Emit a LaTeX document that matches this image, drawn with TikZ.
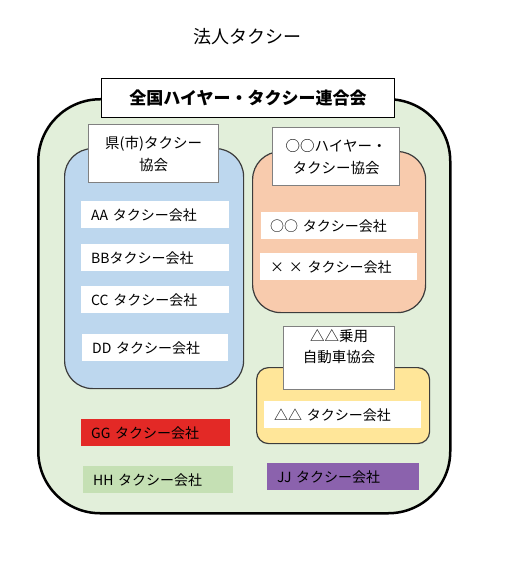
\documentclass[tikz,border=0pt]{standalone}
\usepackage{fontspec}
\newfontfamily\jp{Noto Sans CJK JP}
\definecolor{outerfill}{HTML}{E2EFDA}
\definecolor{bluefill}{HTML}{BDD7EE}
\definecolor{orangefill}{HTML}{F8CBAD}
\definecolor{yellowfill}{HTML}{FFE699}
\definecolor{redfill}{HTML}{E32926}
\definecolor{greenfill}{HTML}{C5E0B4}
\definecolor{purplefill}{HTML}{8B62AD}
\definecolor{darkedge}{HTML}{3C3C3C}
\definecolor{grayedge}{HTML}{808080}
\tikzset{
  group/.style={draw=darkedge, line width=1.2pt, anchor=north west, inner sep=0pt},
  labelbox/.style={draw=grayedge, line width=1.2pt, fill=white, anchor=north west, inner sep=0pt, align=center, font=\jp\fontsize{14.5}{22}\selectfont},
  item/.style={anchor=north west, inner xsep=10pt, inner ysep=0pt, minimum height=27pt, align=left, font=\jp\fontsize{14}{16}\selectfont}
}
\begin{document}
\begin{tikzpicture}[x=1pt,y=-1pt]
\useasboundingbox (0,0) rectangle (507,580);
\fill[white] (0,0) rectangle (507,580);
% title
\node[font=\jp\fontsize{18}{20}\selectfont] (title) at (247,37) {法人タクシー};
% outer box
\node[draw=black, line width=2.5pt, fill=outerfill, rounded corners=62pt, anchor=north west, minimum width=412pt, minimum height=414pt, inner sep=0pt] (outer) at (37,98) {};
% header
\node[draw=black, line width=1pt, fill=white, anchor=north west, minimum width=293pt, minimum height=39pt, inner sep=0pt, font=\jp\bfseries\fontsize{17}{20}\selectfont] (head) at (101,78) {全国ハイヤー・タクシー連合会};
% blue group
\node[group, fill=bluefill, rounded corners=28pt, minimum width=179pt, minimum height=240pt] (blue) at (64,148) {};
\node[labelbox, minimum width=130pt, minimum height=58pt] (bluelab) at (88,124) {県(市)タクシー\\協会};
\node[item, fill=white, text width=128pt] (aa) at (81,201) {AA タクシー会社};
\node[item, fill=white, text width=128pt] (bb) at (81,244) {BBタクシー会社};
\node[item, fill=white, text width=128pt] (cc) at (81,286) {CC タクシー会社};
\node[item, fill=white, text width=126pt] (dd) at (82,334) {DD タクシー会社};
% orange group
\node[group, fill=orangefill, rounded corners=28pt, minimum width=173pt, minimum height=161pt] (orange) at (252,151) {};
\node[labelbox, minimum width=127pt, minimum height=58pt] (orangelab) at (272,127) {○○ハイヤー・\\タクシー協会};
\node[item, fill=white, text width=139pt, inner xsep=9pt] (oo) at (261,212) {○○ タクシー会社};
\node[item, fill=white, text width=137pt, inner xsep=10pt] (xx) at (260,253) {× × タクシー会社};
% yellow group
\node[group, fill=yellowfill, rounded corners=12pt, minimum width=173pt, minimum height=76pt] (yellow) at (256,367) {};
\node[labelbox, minimum width=111pt, minimum height=63pt, anchor=north west] (yellowlab) at (283,326) {};
\node[font=\jp\fontsize{14.5}{21}\selectfont, align=center, anchor=north] (yellowtxt) at (yellowlab.north) {△△乗用\\自動車協会};
\node[item, fill=white, text width=137pt] (tt) at (264,401) {△△ タクシー会社};
% independent companies
\node[item, fill=redfill, text width=129pt] (gg) at (81,419) {GG タクシー会社};
\node[item, fill=greenfill, text width=130pt] (hh) at (83,466) {HH タクシー会社};
\node[item, fill=purplefill, text width=132pt] (jj) at (267,463) {JJ タクシー会社};
\end{tikzpicture}
\end{document}
